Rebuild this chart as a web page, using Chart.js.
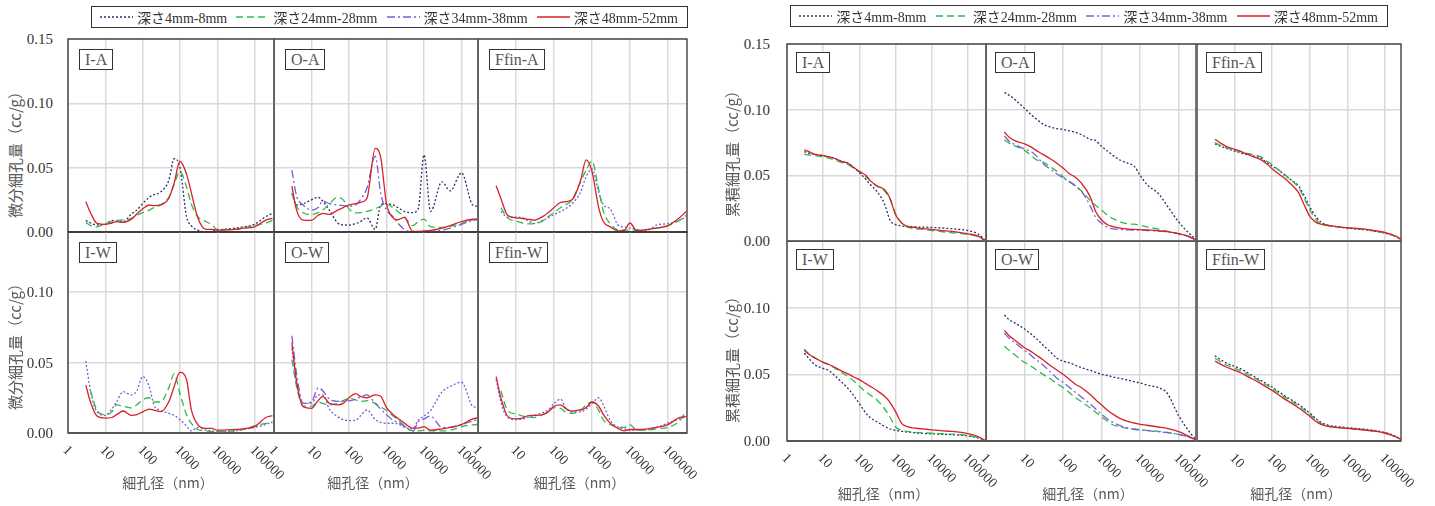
<!DOCTYPE html>
<html>
<head>
<meta charset="utf-8">
<script src="https://cdn.jsdelivr.net/npm/chart.js@4.4.1/dist/chart.umd.min.js"></script>
<style>
  body { margin: 0; background: #fff; width: 1435px; height: 506px; position: relative; overflow: hidden;
         font-family: "Liberation Serif", "Noto Sans CJK JP", serif; }
  .lbl { position: absolute; white-space: nowrap; }
</style>
</head>
<body>
<script>
// pore diameter (nm), shared x values
const D = [3, 4, 6, 10, 15, 20, 30, 50, 70, 100, 150, 200, 300, 500, 700, 1000, 1500, 2000, 3000, 5000,
           7000, 10000, 15000, 30000, 50000, 100000, 200000, 300000];
const DECADES = [1, 10, 100, 1000, 10000, 100000];
const Y_TICKS = [0, 0.05, 0.10, 0.15];
const SERIES = ['深さ4mm-8mm', '深さ24mm-28mm', '深さ34mm-38mm', '深さ48mm-52mm'];

// differential pore volume (left group)
const dif_IA_1 = [.009,.007,.0055,.006,.009,.0085,.008,.014,.017,.022,.027,.029,.031,.040,.057,.050,.012,.005,.0015,0,.0005,.0015,.002,.003,.004,.006,.012,.0145];
const dif_IA_2 = [.0075,.005,.004,.0065,.008,.009,.0095,.0106,.013,.015,.017,.019,.021,.027,.037,.047,.035,.022,.012,.008,.006,.002,.002,.002,.003,.005,.007,.009];
const dif_IA_4 = [.0236,.015,.0067,.006,.007,.008,.0075,.01,.014,.018,.021,.0205,.021,.026,.038,.055,.045,.031,.011,.002,.002,.0015,.0015,.002,.003,.004,.0093,.0106];

const dif_OA_1 = [.030,.021,.022,.025,.027,.024,.017,.007,.0055,.0054,.0065,.008,.011,.002,.021,.022,.021,.019,.016,.015,.018,.060,.016,.039,.032,.046,.021,.020];
const dif_OA_2 = [.030,.020,.015,.0135,.015,.017,.022,.027,.025,.018,.0148,.015,.016,.018,.020,.0215,.019,.016,.012,.005,.008,.010,.004,.0035,.0045,.0065,.0095,.0098];
const dif_OA_3 = [.048,.028,.021,.017,.019,.024,.022,.021,.0205,.020,.021,.025,.034,.059,.030,.017,.012,.007,.002,0,0,0,.0005,.0015,.003,.006,.009,.0098];
const dif_OA_4 = [.0357,.017,.0093,.009,.013,.0145,.0137,.017,.019,.021,.022,.023,.026,.065,.058,.022,.011,.0095,.0114,.0005,.0005,.0008,.0012,.003,.005,.008,.0099,.0101];

const dif_FA_1 = [null,.016,.0115,.0115,.011,.009,.0067,.009,.011,.0135,.016,.018,.022,.031,.043,.049,.031,.021,.018,.005,.004,.003,.002,.0015,.0054,.0065,.009,.012];
const dif_FA_2 = [null,.019,.011,.0085,.007,.0063,.0065,.0085,.012,.015,.019,.021,.025,.039,.048,.055,.033,.016,.0065,.0015,.0015,.0015,.0015,.002,.003,.005,.009,.013];
const dif_FA_4 = [.036,.026,.013,.011,.0105,.010,.0093,.012,.015,.019,.023,.0235,.025,.040,.056,.047,.019,.008,.004,.0008,.0012,.007,.001,.002,.003,.005,.011,.016];

const dif_IW_1 = [.051,.030,.015,.0125,.017,.022,.0293,.027,.030,.040,.033,.0199,.016,.014,.0125,.0095,.005,.0015,.004,.002,.0015,.001,.001,.0015,.0025,.004,.006,.008];
const dif_IW_2 = [null,.030,.016,.013,.015,.020,.019,.0178,.020,.0235,.025,.022,.022,.032,.042,.028,.013,.007,.0025,.0014,.001,.001,.001,.0015,.0025,.005,.0068,.0073];
const dif_IW_4 = [.034,.022,.012,.0105,.011,.013,.0156,.0125,.013,.015,.017,.0162,.0152,.022,.033,.043,.038,.017,.006,.0033,.0033,.002,.002,.0025,.003,.0045,.011,.0123];

const dif_OW_1 = [.060,.035,.021,.021,.027,.027,.017,.0115,.0095,.0088,.009,.012,.0163,.0095,.0075,.0069,.0069,.0065,.004,.003,.009,.012,.016,.029,.033,.036,.019,.018];
const dif_OW_2 = [.052,.033,.019,.019,.022,.021,.020,.021,.023,.0245,.0235,.0222,.023,.021,.0185,.016,.012,.0095,.005,.0015,.0015,.002,.0015,.0015,.002,.0045,.0058,.0061];
const dif_OW_3 = [.069,.042,.021,.022,.032,.030,.024,.0225,.0227,.0228,.024,.0255,.027,.021,.017,.013,.009,.0075,.005,.001,.008,.010,.012,.004,.004,.006,.0085,.0097];
const dif_OW_4 = [.064,.0364,.0187,.0175,.023,.026,.021,.020,.021,.025,.028,.026,.025,.027,.026,.018,.013,.0105,.007,.0035,.0035,.0045,.002,.003,.004,.006,.010,.0109];

const dif_FW_1 = [.038,.022,.011,.0095,.010,.011,.0125,.0145,.0163,.021,.024,.018,.015,.015,.017,.021,.025,.0199,.009,.004,.003,.002,.002,.0025,.004,.007,.010,.0115];
const dif_FW_2 = [null,.030,.016,.0135,.012,.0115,.011,.013,.015,.018,.0175,.015,.014,.016,.020,.022,.016,.0092,.006,.004,.004,.006,.002,.002,.003,.004,.0085,.0156];
const dif_FW_4 = [.040,.025,.012,.010,.0105,.0122,.0125,.013,.015,.019,.020,.0175,.0155,.0165,.018,.022,.019,.013,.007,.003,.0015,.0025,.0025,.003,.004,.006,.011,.0116];

// cumulative pore volume (right group)
const cum_IA_1 = [.068,.067,.066,.065,.064,.063,.061,.059,.056,.052,.047,.043,.038,.028,.016,.0125,.0115,.011,.011,.0105,.0105,.0103,.0101,.0095,.009,.008,.005,.0005];
const cum_IA_2 = [.066,.0655,.065,.064,.063,.062,.060,.058,.0555,.0525,.049,.046,.042,.038,.032,.021,.0135,.011,.0095,.009,.0085,.008,.0075,.0065,.006,.005,.003,.0002];
const cum_IA_4 = [.0695,.068,.066,.065,.064,.063,.061,.059,.056,.053,.050,.046,.042,.039,.0325,.020,.0135,.0115,.0103,.0096,.0092,.0088,.0083,.0075,.0068,.0055,.0035,.0003];

const cum_OA_1 = [.113,.111,.107,.101,.096,.093,.089,.0865,.0855,.085,.0838,.083,.081,.0775,.0765,.072,.068,.065,.0617,.059,.057,.050,.043,.036,.027,.0145,.005,.0005];
const cum_OA_2 = [.077,.0745,.072,.069,.065,.062,.060,.056,.053,.049,.045,.042,.038,.031,.027,.0235,.019,.017,.0147,.013,.0128,.012,.0108,.009,.0075,.0055,.003,.0002];
const cum_OA_3 = [.080,.076,.073,.070,.068,.065,.059,.054,.051,.048,.045,.0425,.038,.027,.018,.0135,.010,.0093,.0088,.0084,.0083,.0082,.008,.0076,.007,.0055,.003,.0002];
const cum_OA_4 = [.083,.079,.076,.074,.0715,.069,.066,.062,.059,.0555,.051,.049,.044,.034,.0225,.016,.012,.011,.0098,.009,.0088,.0086,.0084,.0077,.0071,.0056,.003,.0002];

const cum_FA_1 = [.074,.0725,.0705,.0685,.067,.066,.065,.063,.060,.057,.054,.051,.047,.042,.035,.026,.018,.0145,.012,.011,.0104,.0098,.0093,.0085,.0076,.006,.0032,.0003];
const cum_FA_2 = [.075,.073,.071,.069,.068,.067,.066,.064,.061,.058,.054,.0515,.047,.041,.033,.024,.016,.013,.0118,.011,.0105,.010,.0095,.0088,.0078,.0062,.0033,.0003];
const cum_FA_4 = [.0775,.075,.072,.0698,.068,.0665,.0645,.062,.059,.055,.051,.0485,.044,.037,.028,.019,.014,.0128,.012,.011,.0105,.010,.0098,.009,.008,.0065,.0035,.0003];

const cum_IW_1 = [.0658,.062,.057,.0545,.0525,.0495,.045,.039,.034,.028,.021,.0175,.0145,.011,.009,.008,.0072,.0068,.0063,.0058,.0056,.0054,.0052,.0048,.0045,.0038,.0022,.0002];
const cum_IW_2 = [.069,.0655,.0622,.059,.057,.055,.052,.048,.045,.041,.037,.0345,.031,.024,.018,.0105,.0082,.0072,.0066,.0062,.006,.0058,.0056,.0052,.005,.0042,.0025,.0002];
const cum_IW_4 = [.068,.065,.0622,.059,.0572,.0555,.053,.0502,.048,.046,.043,.041,.038,.0335,.029,.022,.013,.011,.0098,.0092,.0088,.0084,.008,.0073,.0068,.0055,.0032,.0003];

const cum_OW_1 = [.0945,.091,.088,.084,.080,.077,.072,.066,.062,.060,.0585,.057,.055,.053,.0515,.050,.049,.048,.047,.0455,.0445,.0435,.042,.040,.036,.019,.006,.0003];
const cum_OW_2 = [.071,.068,.064,.059,.056,.0535,.050,.046,.043,.040,.036,.033,.0295,.025,.0215,.018,.0145,.012,.0105,.0095,.009,.0085,.008,.0072,.0065,.005,.0025,.0002];
const cum_OW_3 = [.081,.077,.073,.068,.064,.061,.057,.051,.047,.044,.040,.037,.033,.028,.024,.020,.016,.014,.0115,.0095,.0088,.0082,.0078,.007,.0063,.005,.0025,.0002];
const cum_OW_4 = [.083,.079,.075,.070,.067,.0645,.061,.056,.053,.050,.046,.043,.040,.035,.031,.027,.0225,.020,.017,.0145,.0135,.0125,.0118,.0105,.0095,.007,.003,.0003];

const cum_FW_1 = [.064,.0615,.0585,.056,.054,.052,.049,.0455,.043,.0405,.037,.0345,.0315,.0275,.0245,.021,.0165,.014,.012,.011,.0105,.010,.0096,.0088,.008,.0064,.0033,.0003];
const cum_FW_2 = [.062,.060,.057,.0545,.0525,.0505,.048,.0445,.042,.0395,.036,.0335,.0305,.0265,.0235,.020,.0155,.013,.0113,.0104,.0099,.0095,.0091,.0083,.0076,.006,.003,.0003];
const cum_FW_4 = [.060,.058,.0555,.053,.051,.049,.0465,.043,.0405,.038,.0345,.032,.029,.025,.022,.0185,.0145,.0125,.011,.0102,.0098,.0094,.009,.0082,.0075,.006,.003,.0003];

// styles
const COLORS = ['#2b2f6e', '#2dbb4e', '#7b5cd6', '#d8202a'];
const ALT_COLOR = '#7b5cd6';
const DASHES = [[2, 2], [7, 4], [8, 3, 2, 3], []];
const P = 3;

const groups = [
  { yTitle: '微分細孔量（cc/g）', yTitleX: 15, yTitleY: [151, 343], tickRight: 53, xTitleY: 482, boxOff: [11, 10],
    cols: [[68, 274, 5.52], [274, 478, 5.44], [478, 687, 5.5]],
    rows: [[39, 232, 0.15], [232, 433, 0.1426]],
    panels: [
      ['I-A', [[0, dif_IA_1], [1, dif_IA_2], [3, dif_IA_4]]],
      ['O-A', [[0, dif_OA_1], [1, dif_OA_2], [2, dif_OA_3], [3, dif_OA_4]]],
      ['Ffin-A', [[0, dif_FA_1, 1], [1, dif_FA_2], [3, dif_FA_4]]],
      ['I-W', [[0, dif_IW_1, 1], [1, dif_IW_2], [3, dif_IW_4]]],
      ['O-W', [[0, dif_OW_1, 1], [1, dif_OW_2], [2, dif_OW_3], [3, dif_OW_4]]],
      ['Ffin-W', [[0, dif_FW_1, 1], [1, dif_FW_2], [3, dif_FW_4]]]
    ],
    legend: [91, 6, 597] },
  { yTitle: '累積細孔量（cc/g）', yTitleX: 732, yTitleY: [150, 356], tickRight: 770, xTitleY: 493, boxOff: [9, 8],
    cols: [[787, 986, 5.5], [986, 1196, 5.45], [1197, 1401, 5.43]],
    rows: [[44, 241, 0.15], [241, 441, 0.15]],
    panels: [
      ['I-A', [[0, cum_IA_1], [1, cum_IA_2], [3, cum_IA_4]]],
      ['O-A', [[0, cum_OA_1], [1, cum_OA_2], [2, cum_OA_3], [3, cum_OA_4]]],
      ['Ffin-A', [[0, cum_FA_1], [1, cum_FA_2], [3, cum_FA_4]]],
      ['I-W', [[0, cum_IW_1], [1, cum_IW_2], [3, cum_IW_4]]],
      ['O-W', [[0, cum_OW_1], [1, cum_OW_2], [2, cum_OW_3], [3, cum_OW_4]]],
      ['Ffin-W', [[0, cum_FW_1], [1, cum_FW_2], [3, cum_FW_4]]]
    ],
    legend: [790, 5, 598] }
];

function addLabel(text, css) {
  const d = document.createElement('div');
  d.className = 'lbl';
  d.textContent = text;
  d.style.cssText += css;
  document.body.appendChild(d);
  return d;
}

// panel frame + thick zero axis
const framePlugin = {
  id: 'frame',
  beforeDatasetsDraw(chart) {
    const a = chart.chartArea, g = chart.ctx;
    g.save();
    g.strokeStyle = '#333';
    g.lineWidth = 1.3;
    g.strokeRect(a.left, a.top, a.right - a.left, a.bottom - a.top);
    g.strokeStyle = '#555';
    g.lineWidth = 2.2;
    g.beginPath();
    g.moveTo(a.left, a.bottom);
    g.lineTo(a.right, a.bottom);
    g.stroke();
    g.restore();
  }
};

function makePanel(grp, name, lines, ci, ri) {
  const [x0, x1, xmaxLog] = grp.cols[ci];
  const [y0, y1, ymax] = grp.rows[ri];
  const cv = document.createElement('canvas');
  cv.width = x1 - x0 + 2 * P;
  cv.height = y1 - y0 + 2 * P;
  cv.style.cssText = `position:absolute;left:${x0 - P}px;top:${y0 - P}px;width:${cv.width}px;height:${cv.height}px`;
  document.body.appendChild(cv);

  const grid = { color: '#d9d9d9', lineWidth: 1.5, drawTicks: false };
  const chart = new Chart(cv, {
    type: 'line',
    data: {
      datasets: lines.map(([s, arr, alt]) => ({
        label: SERIES[s],
        data: D.map((x, i) => ({ x, y: arr[i] })),
        borderColor: alt ? ALT_COLOR : COLORS[s],
        borderDash: DASHES[s],
        borderWidth: 1.3,
        pointRadius: 0,
        cubicInterpolationMode: 'monotone',
        order: 3 - s
      }))
    },
    options: {
      responsive: false,
      animation: false,
      devicePixelRatio: 1,
      events: [],
      layout: { padding: P },
      plugins: { legend: { display: false }, tooltip: { enabled: false } },
      scales: {
        x: {
          type: 'logarithmic', min: 1, max: Math.pow(10, xmaxLog),
          ticks: { display: false }, grid, border: { display: false },
          afterBuildTicks: s => { s.ticks = DECADES.map(v => ({ value: v })); }
        },
        y: {
          min: 0, max: ymax,
          ticks: { display: false }, grid, border: { display: false },
          afterBuildTicks: s => { s.ticks = Y_TICKS.filter(v => v <= ymax + 1e-9).map(v => ({ value: v })); }
        }
      }
    },
    plugins: [framePlugin]
  });

  const ox = x0 - P, oy = y0 - P;

  // panel name box
  addLabel(name, `left:${x0 + grp.boxOff[0]}px;top:${y0 + grp.boxOff[1]}px;border:1px solid #333;background:#fff;` +
    'padding:0 5px;font-size:16px;line-height:19px;color:#555;');

  // y tick labels for left column
  if (ci === 0) {
    Y_TICKS.forEach(v => {
      if (ri === 1 && v >= ymax - 1e-6) return;
      if (v > ymax + 1e-9) return;
      const py = oy + chart.scales.y.getPixelForValue(v);
      addLabel(v.toFixed(2), `right:${1435 - grp.tickRight}px;top:${py - 9}px;font-size:15px;line-height:18px;color:#333;`);
    });
  }
  // x tick labels for bottom row
  if (ri === 1) {
    DECADES.forEach(v => {
      const px = ox + chart.scales.x.getPixelForValue(v);
      addLabel(String(v), `left:${px + 2}px;top:${y1 + 10}px;font-size:14px;line-height:14px;color:#333;` +
        'transform:rotate(45deg);transform-origin:0 0;');
    });
    addLabel('細孔径（nm）', `left:${(x0 + x1) / 2 - 3}px;top:${grp.xTitleY - 10}px;transform:translateX(-50%);` +
      'font-family:"Noto Sans CJK JP";font-size:14px;line-height:20px;color:#595959;');
  }
}

function makeLegend(grp) {
  const [lx, ly, lw] = grp.legend;
  const box = document.createElement('div');
  box.style.cssText = `position:absolute;left:${lx}px;top:${ly}px;width:${lw}px;height:22px;border:1px solid #333;` +
    'box-sizing:border-box;display:flex;align-items:center;padding-left:8px;background:#fff;';
  SERIES.forEach((name, s) => {
    const svgNS = 'http://www.w3.org/2000/svg';
    const svg = document.createElementNS(svgNS, 'svg');
    svg.setAttribute('width', 36);
    svg.setAttribute('height', 8);
    const ln = document.createElementNS(svgNS, 'line');
    ln.setAttribute('x1', 0); ln.setAttribute('x2', 36);
    ln.setAttribute('y1', 4); ln.setAttribute('y2', 4);
    ln.setAttribute('stroke', COLORS[s]);
    ln.setAttribute('stroke-width', 1.5);
    if (DASHES[s].length) ln.setAttribute('stroke-dasharray', DASHES[s].join(','));
    svg.appendChild(ln);
    box.appendChild(svg);
    const t = document.createElement('span');
    t.textContent = name;
    t.style.cssText = 'font-size:14px;color:#333;margin:0 9px 0 4px;white-space:nowrap;';
    box.appendChild(t);
  });
  document.body.appendChild(box);
}

groups.forEach(grp => {
  grp.panels.forEach(([name, lines], i) => makePanel(grp, name, lines, i % 3, Math.floor(i / 3)));
  grp.yTitleY.forEach(cy => {
    addLabel(grp.yTitle, `left:${grp.yTitleX}px;top:${cy}px;transform:translate(-50%,-50%) rotate(-90deg);` +
      'font-family:"Noto Sans CJK JP";font-size:15px;line-height:18px;color:#595959;');
  });
  makeLegend(grp);
});
</script>
</body>
</html>
